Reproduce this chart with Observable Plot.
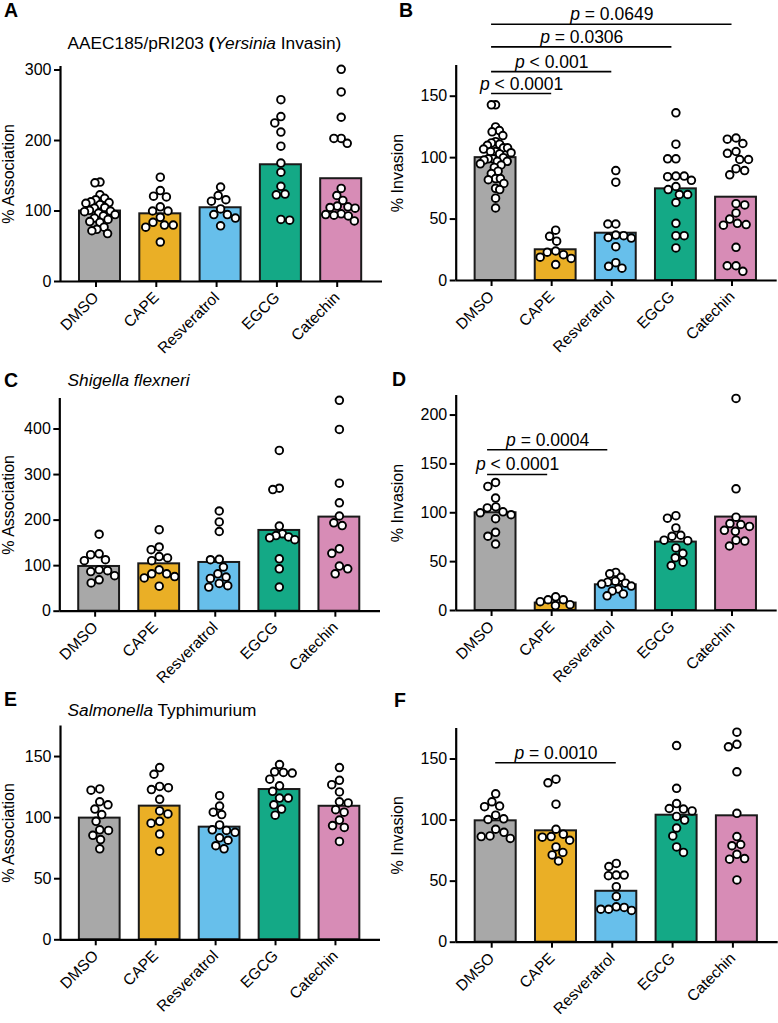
<!DOCTYPE html>
<html><head><meta charset="utf-8">
<script src="https://cdn.jsdelivr.net/npm/d3@7"></script>
<script src="https://cdn.jsdelivr.net/npm/@observablehq/plot@0.6"></script>
<style>
body{margin:0;background:#fff;}
#page{position:relative;width:778px;height:1023px;overflow:hidden;font-family:"Liberation Sans",Arial,sans-serif;background:#fff;}
#page svg{position:absolute;}
</style></head><body><div id="page"></div>
<script>
const categories = ["DMSO","CAPE","Resveratrol","EGCG","Catechin"];
const colors = ["#A8A8A8","#EAAF26","#67BFEB","#14A986","#D78CB6"];

// Panel A — AAEC185/pRI203 % Association
const aBars = [100, 96, 104.6, 165.6, 145.8];
const aDots = [
  [141,140,123,118,116,113,112,111,109,105,104,101,100,99,97,95,93,90,88,85,84,77,74,72,68],
  [148,129,121,120,106,100,100,91,84,80,80,77,56],
  [134,122,116,114,103,95,95,90,79],
  [258,234,225,212,192,168,155,135,124,123,88,87],
  [301,269,233,203,203,196,132,122,115,107,106,105,104,96,95,94,93,86]
];
const aTicks = [0,100,200,300];

// Panel B — AAEC185/pRI203 % Invasion
const bBars = [100, 25, 38.5, 74.6, 67.8];
const bDots = [
  [143,143,125,122,121,118,113,112,111,110,108,108,107,105,105,104,103,100,99,99,98,97,97,95,94,92,89,87,83,83,82,79,75,74,67,59],
  [41,36,32,24,23,21,19,18,13],
  [89.5,80,46,46,37,36.5,35,34.5,27.5,14.5,11.5,10],
  [136.5,111,99,99,85,85,84.5,81.5,76.5,74,70,70,63.5,46.5,36.5,36.5,26.5],
  [116,115,111.5,105,103.5,98.5,98.5,91,89.5,86,62.5,61.5,55,50,46.5,45.5,45,27,12,12,7.5]
];
const bTicks = [0,50,100,150];
const bBrackets = [
  {from:0, to:1, y:152.2, label:"p < 0.0001"},
  {from:0, to:2, y:170, label:"p < 0.001"},
  {from:0, to:3, y:190.2, label:"p = 0.0306"},
  {from:0, to:4, y:208.6, label:"p = 0.0649"}
];

// Panel C — Shigella flexneri % Association
const cBars = [98.2, 104, 107, 177.3, 206.6];
const cDots = [
  [169,126,124,113,111,91,89,87,78,69,62],
  [179,141,135,120,117,111,91,82,82,76,73,55],
  [220,196,175,114,113,97,82,75,72,61,56,53],
  [353,270,267,187,170,166,163,161,157,115,93,53],
  [463,399,281,238,209,194,188,137,127,99,93,82]
];
const cTicks = [0,100,200,300,400];

// Panel D — Shigella flexneri % Invasion
const dBars = [100, 7.6, 26.3, 70, 95.6];
const dDots = [
  [131,127,115,106,105,101,100,98,94,80,76,68],
  [14,11,11,9,6,5],
  [39,37.5,34,30,29,28,27,25,22,20,17,15],
  [97,94.5,84.5,77,76,72,71.5,64,58.5,54,49.5,46],
  [217,124.5,95.5,89,88,86,82,81,72,71,66]
];
const dTicks = [0,50,100,150,200];
const dBrackets = [
  {from:0, to:1, y:139.2, label:"p < 0.0001"},
  {from:0, to:2, y:164.5, label:"p = 0.0004"}
];

// Panel E — Salmonella Typhimurium % Association
const eBars = [99.6, 109.4, 92.2, 123, 109.3];
const eDots = [
  [123.5,122.5,113,110.5,107,102.5,97,90,89.5,85.5,82,74.5],
  [141,135.5,125.5,124.5,123,115,105.5,103,97,95.5,86.5,72.5],
  [118,109.5,104.5,102.5,94,90,89.5,88,83.5,81.5,77,74.5],
  [143.5,137.5,137,136.5,131.5,126,121.5,116,116,110.5,107,102],
  [141,130.5,127,121,113,112,106.5,104.5,98,93.5,92,80.5]
];
const eTicks = [0,50,100,150];

// Panel F — Salmonella Typhimurium % Invasion
const fBars = [99.4, 91.2, 41.7, 104, 103.5];
const fDots = [
  [121.5,115,111.5,111,104,101,100.5,92.5,90,87,86.5,85],
  [133.5,130.5,113,92.5,88.5,86.5,86,83.5,78,73.5,71.5,66.5],
  [64.5,62,55,55,54.5,45.5,37.5,29,28.5,27,27,26],
  [161,126,113.5,109.5,109,107.5,103,100,93.5,87,78,73.5],
  [172,162,160,139.5,105.5,86.5,80,79,72,68.5,68,51]
];
const fTicks = [0,50,100,150];
const fBrackets = [
  {from:0, to:2, y:147, label:"p = 0.0010"}
];

// ---- layout (not data) ----
const FONT = '"Liberation Sans", Arial, Helvetica, sans-serif';
const xDomain = [-0.655, 4.685];
const halfBar = 0.34;
const panels = [
  {bars:aBars, dots:aDots, ticks:aTicks, yMax:305, ylabel:"% Association", box:[0,0,389,340], frame:[60,382,66,281]},
  {bars:bBars, dots:bDots, ticks:bTicks, yMax:175, ylabel:"% Invasion", box:[389,0,389,340], frame:[455.7,776.7,65,280], brackets:bBrackets, bdx:-4},
  {bars:cBars, dots:cDots, ticks:cTicks, yMax:467, ylabel:"% Association", box:[0,340,389,340], frame:[59.3,380,398,610.7]},
  {bars:dBars, dots:dDots, ticks:dTicks, yMax:220, ylabel:"% Invasion", box:[389,340,389,340], frame:[455.7,776.7,395,610], brackets:dBrackets, bdx:-8},
  {bars:eBars, dots:eDots, ticks:eTicks, yMax:175, ylabel:"% Association", box:[0,680,389,343], frame:[60,380,725.5,939.3]},
  {bars:fBars, dots:fDots, ticks:fTicks, yMax:175, ylabel:"% Invasion", box:[389,680,389,343], frame:[455.7,777.7,728,941.7], brackets:fBrackets, bdx:0}
];

// simple beeswarm: offsets in pixels, compressed so the spread stays near the bar
function swarm(values, pxPerUnit, d, maxSpread) {
  const pts = values.slice().sort((a,b)=>b-a).map(v=>({v, y:v*pxPerUnit, x:0}));
  const placed = [];
  let flip = 1;
  for (const p of pts) {
    const cands = [0];
    for (const q of placed) {
      const dy = Math.abs(q.y - p.y);
      if (dy < d) { const dx = Math.sqrt(d*d - dy*dy); cands.push(q.x + dx, q.x - dx); }
    }
    cands.sort((a,b)=> (Math.abs(a)-Math.abs(b)) || (flip*(a-b)));
    for (const c of cands) {
      if (placed.every(q => (q.x-c)**2 + (q.y-p.y)**2 >= d*d - 0.01)) { p.x = c; break; }
    }
    if (p.x !== 0) flip = -flip;
    placed.push(p);
  }
  const m = d3.max(pts, p=>Math.abs(p.x)) || 1;
  const k = Math.min(1, maxSpread / m);
  pts.forEach(p => p.x *= k);
  return pts;
}

const page = document.getElementById("page");
const NS = "http://www.w3.org/2000/svg";

for (const p of panels) {
  const [L,T,W,H] = p.box; const [x0,x1,ft,fb] = p.frame;
  const pxPerUnit = (fb - ft) / p.yMax;
  const pxPerIndex = (x1 - x0) / (xDomain[1] - xDomain[0]);
  const barData = p.bars.map((v,i)=>({i, v}));
  const dotData = p.dots.flatMap((vals,i)=> swarm(vals, pxPerUnit, 8.8, 15.5).map(s=>({x: i + s.x/pxPerIndex, v: s.v})));
  const marks = [
    Plot.rect(barData, {x1: d=>d.i-halfBar, x2: d=>d.i+halfBar, y1: 0, y2: "v", fill: d=>colors[d.i], stroke:"#1a1a1a", strokeWidth:2}),
    Plot.dot(dotData, {x:"x", y:"v", r:3.8, fill:"white", stroke:"#000", strokeWidth:1.9}),
    Plot.ruleY([0], {strokeWidth:2.2, stroke:"#000"}),
    Plot.ruleX([xDomain[0]], {y1:0, y2:p.yMax, strokeWidth:2.2, stroke:"#000"}),
    Plot.axisY({ticks:p.ticks, tickSize:6, tickPadding:3, fontSize:16, strokeWidth:2, tickFormat:d=>String(d),
      label:p.ylabel, labelAnchor:"center", labelArrow:"none", labelOffset: x0 - L - 2.5}),
    Plot.axisX({ticks:[0,1,2,3,4], tickFormat:i=>categories[i], tickRotate:-45, tickSize:6, tickPadding:7.5, dx:-4, fontSize:15.5, strokeWidth:2, label:null})
  ];
  if (p.brackets) {
    marks.push(Plot.ruleY(p.brackets, {y:"y", x1:"from", x2:"to", dx:p.bdx, strokeWidth:1.6, stroke:"#000"}));
    marks.push(Plot.text(p.brackets, {x:d=>(d.from+d.to)/2, y:"y", text:"label", dx:p.bdx, dy:-4, lineAnchor:"bottom", fontSize:17.5, fill:"#000"}));
  }
  const svg = Plot.plot({
    width:W, height:H,
    marginLeft: x0 - L, marginRight: L + W - x1, marginTop: ft - T, marginBottom: T + H - fb,
    x:{type:"linear", domain:xDomain},
    y:{type:"linear", domain:[0,p.yMax]},
    style:{fontFamily:FONT, fontSize:"16px", background:"transparent", overflow:"visible", color:"#000"},
    marks
  });
  svg.querySelectorAll('g[aria-label="text"] text').forEach(t=>{
    const s = t.textContent;
    if (s.startsWith("p ")) {
      t.textContent = "";
      const a = document.createElementNS(NS, "tspan");
      a.setAttribute("font-style","italic"); a.textContent = "p";
      t.appendChild(a); t.appendChild(document.createTextNode(s.slice(1)));
    }
  });
  svg.style.position = "absolute"; svg.style.left = L + "px"; svg.style.top = T + "px";
  svg.style.maxWidth = "none";
  page.appendChild(svg);
}

// overlay: panel letters and titles
const ov = document.createElementNS(NS, "svg");
ov.setAttribute("width", 778); ov.setAttribute("height", 1023);
ov.style.left = "0px"; ov.style.top = "0px"; ov.style.position = "absolute"; ov.style.overflow = "visible";
ov.setAttribute("font-family", FONT);
const letters = [["A",4,16.7],["B",399,16.7],["C",4,386.5],["D",392,386],["E",4,706],["F",394,706.5]];
for (const [s,x,y] of letters) {
  const t = document.createElementNS(NS,"text");
  t.setAttribute("x",x); t.setAttribute("y",y); t.setAttribute("font-size",19.5); t.setAttribute("font-weight","bold");
  t.textContent = s; ov.appendChild(t);
}
function title(parts, x, y) {
  const t = document.createElementNS(NS,"text");
  t.setAttribute("x",x); t.setAttribute("y",y); t.setAttribute("font-size",17.3);
  for (const [s, st] of parts) {
    const ts = document.createElementNS(NS,"tspan"); ts.textContent = s;
    if (st === "i") ts.setAttribute("font-style","italic");
    if (st === "b") ts.setAttribute("font-weight","bold");
    t.appendChild(ts);
  }
  ov.appendChild(t);
}
title([["AAEC185/pRI203 ",""],["(","b"],["Yersinia","i"],[" Invasin)",""]], 67.5, 48.5);
title([["Shigella flexneri","i"]], 67.5, 386.3);
title([["Salmonella","i"],[" Typhimurium",""]], 67.5, 716.3);
page.appendChild(ov);
</script>
</body></html>
